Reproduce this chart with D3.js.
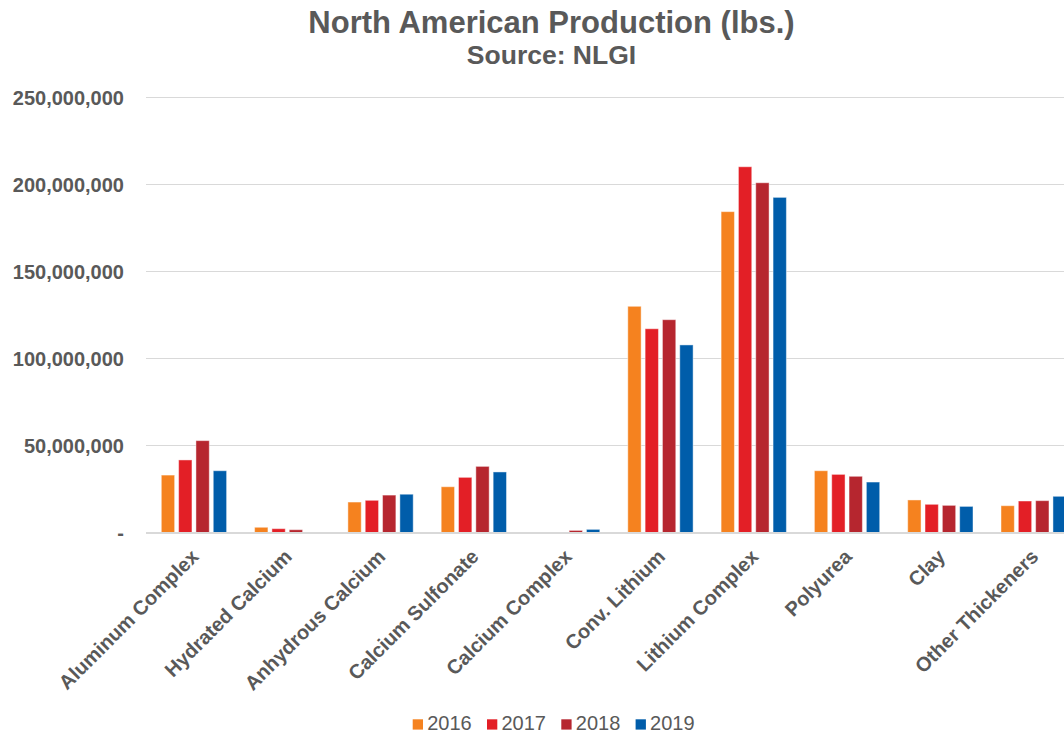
<!DOCTYPE html>
<html>
<head>
<meta charset="utf-8">
<script src="https://cdn.jsdelivr.net/npm/d3@7"></script>
<style>
  html, body { margin: 0; padding: 0; background: #fff; overflow: hidden; }
  svg { display: block; font-family: "Liberation Sans", Arial, sans-serif; }
</style>
</head>
<body>
<svg id="chart" width="1064" height="736"></svg>
<script>
const categories = ["Aluminum Complex", "Hydrated Calcium", "Anhydrous Calcium", "Calcium Sulfonate",
  "Calcium Complex", "Conv. Lithium", "Lithium Complex", "Polyurea", "Clay", "Other Thickeners"];
const years = ["2016", "2017", "2018", "2019"];
const values2016 = [33000000, 3000000, 17500000, 26300000, 0, 130000000, 184400000, 35500000, 18700000, 15400000];
const values2017 = [41700000, 2200000, 18500000, 31700000, 0, 117100000, 210200000, 33400000, 16200000, 18100000];
const values2018 = [52800000, 1600000, 21500000, 38000000, 1200000, 122300000, 201000000, 32300000, 15600000, 18300000];
const values2019 = [35500000, 0, 22000000, 34800000, 1800000, 107800000, 192600000, 29000000, 15000000, 20800000];
const yTicks = [0, 50000000, 100000000, 150000000, 200000000, 250000000];
const colors = ["#F5821F", "#E31F26", "#B6262F", "#005DAA"];

const series = [values2016, values2017, values2018, values2019];
const textColor = "#595959";
const svg = d3.select("#chart");

const x = d3.scaleBand().domain(categories).range([147.3, 147.3 + 93.3 * categories.length]).padding(0);
const xi = d3.scaleBand().domain(years).range([14, 79.3]).paddingInner(0.23).paddingOuter(0);
const y = d3.scaleLinear().domain([0, 250000000]).range([532.5, 97.5]);

// gridlines
svg.append("g").selectAll("line").data(yTicks.filter(d => d !== 0)).join("line")
  .attr("x1", 146).attr("x2", 1064)
  .attr("y1", d => y(d)).attr("y2", d => y(d))
  .attr("stroke", "#D9D9D9").attr("stroke-width", 1.2);

// y labels
const fmt = d3.format(",");
svg.append("g").selectAll("text").data(yTicks).join("text")
  .attr("x", 124).attr("y", d => y(d)).attr("dy", "0.36em")
  .attr("text-anchor", "end")
  .attr("font-size", 20).attr("font-weight", "bold").attr("fill", textColor)
  .text(d => d === 0 ? "-" : fmt(d));

// bars
const groups = svg.append("g").selectAll("g").data(categories).join("g")
  .attr("transform", d => `translate(${x(d)},0)`);
groups.selectAll("rect").data((c, i) => years.map((yr, j) => ({ yr, j, v: series[j][i] })))
  .join("rect")
  .attr("x", d => xi(d.yr))
  .attr("width", xi.bandwidth())
  .attr("y", d => y(d.v))
  .attr("height", d => y(0) - y(d.v))
  .attr("fill", d => colors[d.j])
  .attr("stroke", "#fff").attr("stroke-opacity", 0.45).attr("stroke-width", 1);

// baseline
svg.append("line").attr("x1", 146).attr("x2", 1064)
  .attr("y1", y(0) + 0.5).attr("y2", y(0) + 0.5)
  .attr("stroke", "#D9D9D9").attr("stroke-width", 2);

// x labels
svg.append("g").selectAll("text").data(categories).join("text")
  .attr("transform", d => `translate(${x(d) + x.bandwidth() / 2 + 1},553) rotate(-45)`)
  .attr("dy", "0.35em")
  .attr("text-anchor", "end")
  .attr("font-size", 20).attr("font-weight", "bold").attr("fill", textColor)
  .text(d => d);

// title
svg.append("text").attr("x", 551.5).attr("y", 33).attr("text-anchor", "middle")
  .attr("font-size", 31).attr("font-weight", "bold").attr("fill", textColor)
  .text("North American Production (lbs.)");
svg.append("text").attr("x", 551.5).attr("y", 64).attr("text-anchor", "middle")
  .attr("font-size", 26.5).attr("font-weight", "bold").attr("fill", textColor)
  .text("Source: NLGI");

// legend
const legend = svg.append("g").selectAll("g").data(years).join("g")
  .attr("transform", (d, i) => `translate(${412.7 + i * 74.3},0)`);
legend.append("rect").attr("x", 0).attr("y", 719.3).attr("width", 10.3).attr("height", 10.3)
  .attr("fill", (d, i) => colors[i]);
legend.append("text").attr("x", 14.5).attr("y", 729.5)
  .attr("font-size", 20).attr("fill", textColor).text(d => d);
</script>
</body>
</html>
